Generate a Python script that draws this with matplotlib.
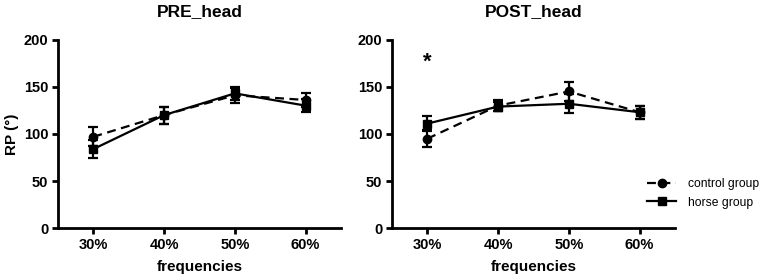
import numpy as np
import matplotlib.pyplot as plt

plt.rcParams['font.family'] = ['Liberation Sans', 'DejaVu Sans']

freqs = ["30%", "40%", "50%", "60%"]

# PRE_head
pre_control = [97, 120, 141, 136]
pre_control_err = [10, 9, 8, 7]
pre_horse = [84, 120, 143, 130]
pre_horse_err = [10, 9, 7, 7]

# POST_head
post_control = [95, 130, 145, 123]
post_control_err = [9, 6, 10, 7]
post_horse = [111, 129, 132, 123]
post_horse_err = [8, 5, 10, 7]

star_value = 176

fig = plt.figure(figsize=(7.65, 2.8), dpi=100)
ax1 = fig.add_axes([0.0758, 0.1846, 0.370, 0.674])
ax2 = fig.add_axes([0.5124, 0.1846, 0.370, 0.674])

x = np.arange(len(freqs))

def draw(ax, ctrl, ctrl_err, horse, horse_err, title):
    ax.errorbar(x, ctrl, yerr=ctrl_err, color="black", linestyle="--", marker="o",
                markersize=6, linewidth=1.6, elinewidth=1.6, capsize=3.5, capthick=1.6,
                dashes=(4, 2.5), label="control group")
    ax.errorbar(x, horse, yerr=horse_err, color="black", linestyle="-", marker="s",
                markersize=6, linewidth=1.6, elinewidth=1.6, capsize=3.5, capthick=1.6,
                label="horse group")
    ax.set_xlim(-0.5, 3.5)
    ax.set_ylim(0, 200)
    ax.set_yticks([0, 50, 100, 150, 200])
    ax.set_xticks(x)
    ax.set_xticklabels(freqs)
    ax.spines['top'].set_visible(False)
    ax.spines['right'].set_visible(False)
    ax.spines['left'].set_linewidth(2)
    ax.spines['bottom'].set_linewidth(2)
    ax.tick_params(axis='both', width=2, length=4, labelsize=10.5, pad=3)
    for lab in ax.get_xticklabels() + ax.get_yticklabels():
        lab.set_fontweight("bold")
    ax.set_title(title, fontsize=12.5, fontweight="bold", pad=17)
    ax.set_xlabel("frequencies", fontsize=11, fontweight="bold", labelpad=6)

draw(ax1, pre_control, pre_control_err, pre_horse, pre_horse_err, "PRE_head")
draw(ax2, post_control, post_control_err, post_horse, post_horse_err, "POST_head")
ax1.set_ylabel("RP (°)", fontsize=11, fontweight="bold", labelpad=3)

ax2.text(0, star_value, "*", ha="center", va="center", fontsize=16, fontweight="bold")

# legend shows only line + marker, no error bars
handles, labels = ax2.get_legend_handles_labels()
handles = [h[0] for h in handles]
fig.legend(handles, labels, loc="center left", bbox_to_anchor=(0.832, 0.31),
           frameon=False, fontsize=8.7, handlelength=2.4, handletextpad=1.0,
           labelspacing=0.55)

fig.savefig("out.png", dpi=100)
